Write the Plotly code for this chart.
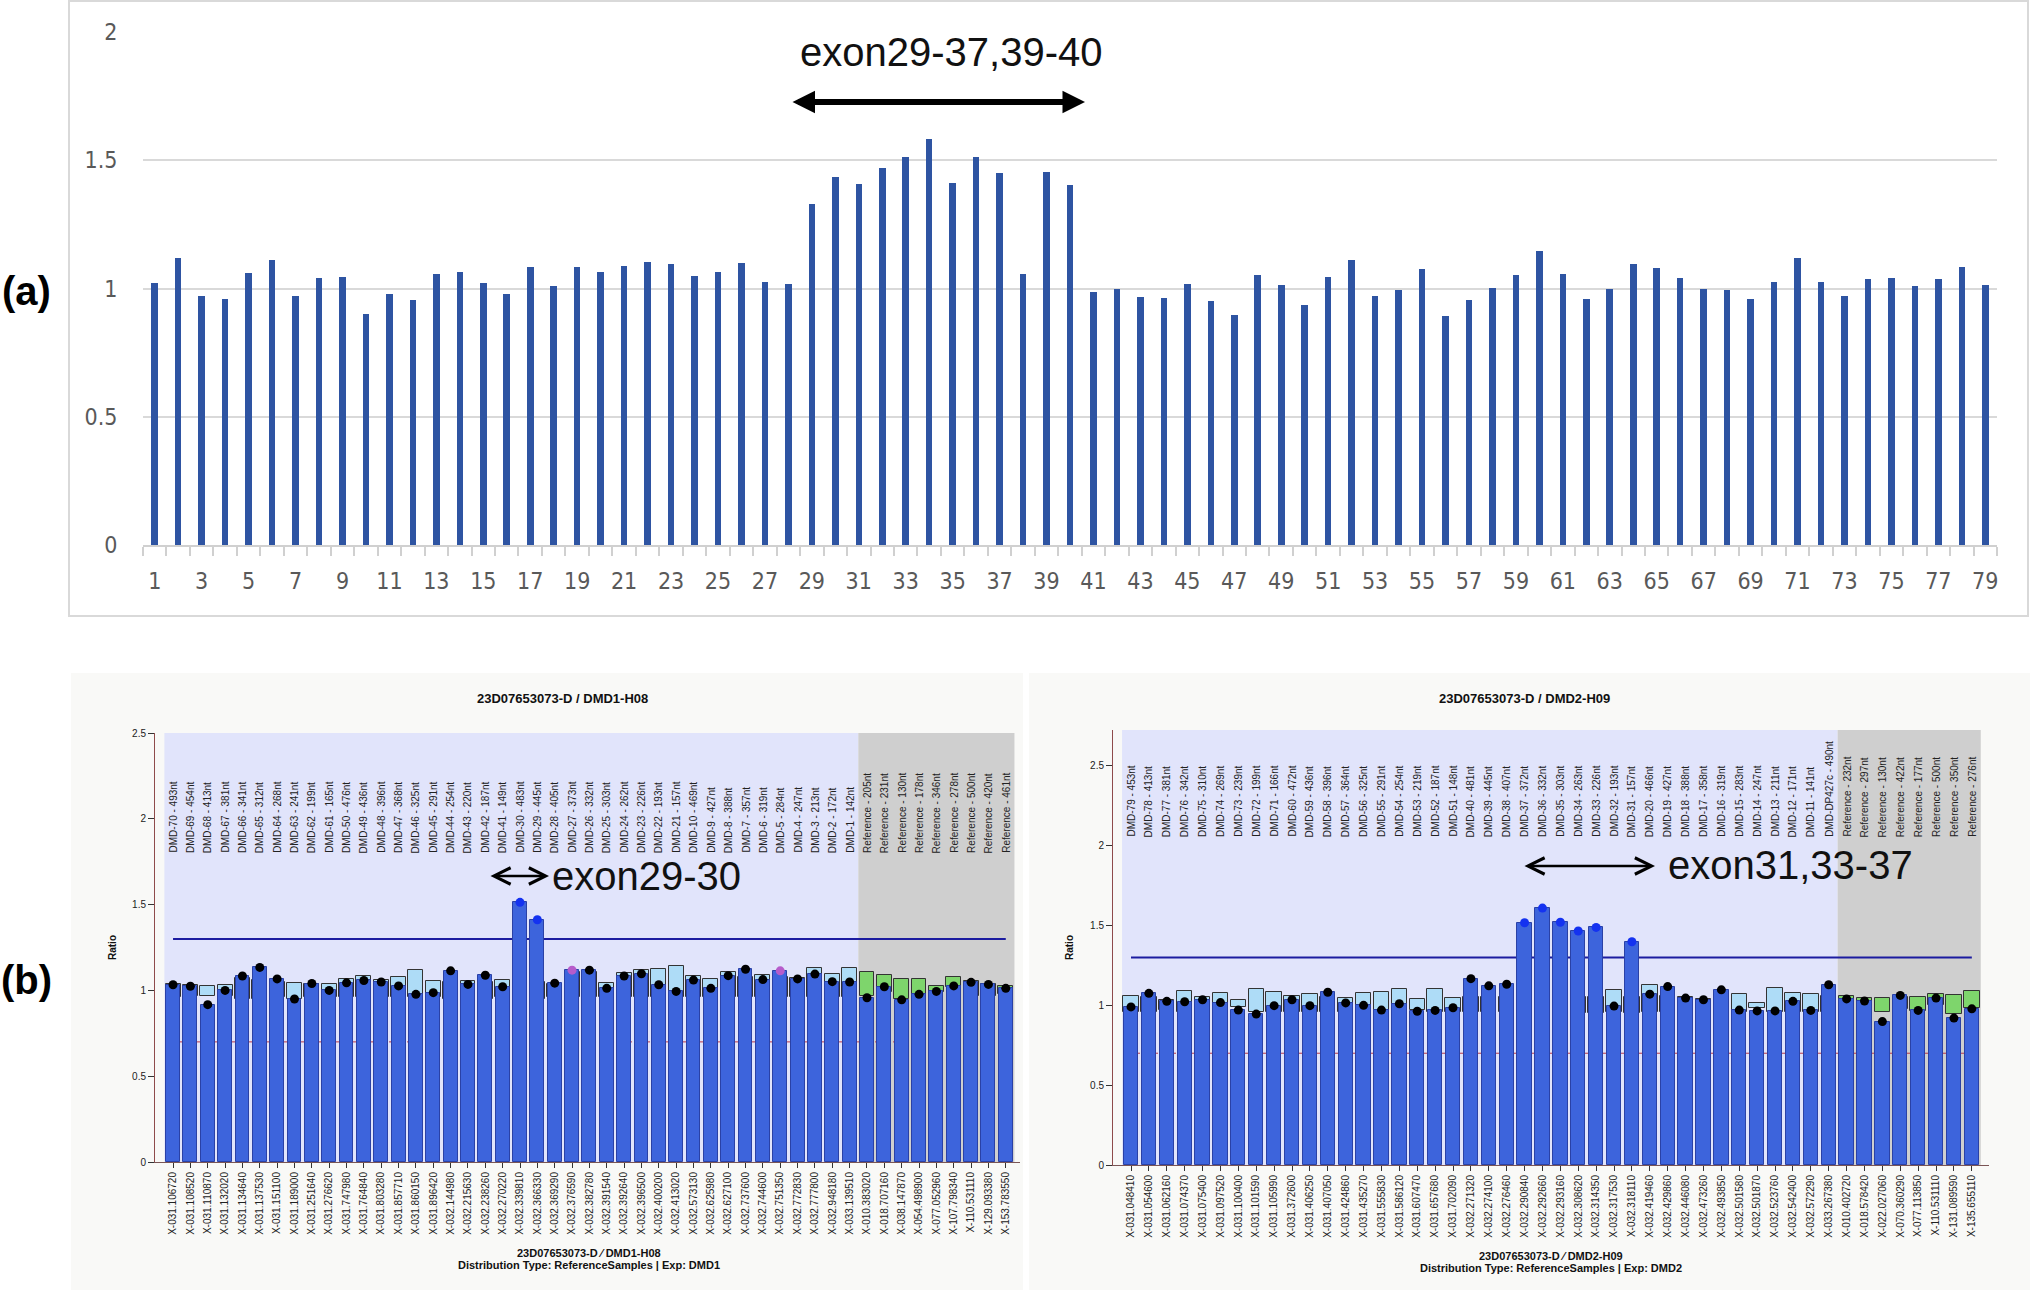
import plotly.graph_objects as go

W, H = 2030, 1290

# ---------------- panel (a) data ----------------
a_exons = list(range(1, 80))
a_ratio = [1.02, 1.12, 0.97, 0.96, 1.06, 1.11, 0.97, 1.04, 1.045, 0.90,
           0.98, 0.955, 1.055, 1.063, 1.02, 0.978, 1.082, 1.008, 1.085, 1.063,
           1.088, 1.103, 1.095, 1.049, 1.065, 1.10, 1.026, 1.018, 1.329, 1.434,
           1.406, 1.471, 1.511, 1.582, 1.411, 1.511, 1.451, 1.058, 1.454, 1.402,
           0.986, 0.998, 0.966, 0.963, 1.018, 0.952, 0.897, 1.054, 1.012, 0.937,
           1.043, 1.111, 0.972, 0.995, 1.077, 0.894, 0.955, 1.003, 1.052, 1.145,
           1.057, 0.958, 0.998, 1.097, 1.078, 1.042, 0.998, 0.995, 0.958, 1.026,
           1.12, 1.025, 0.969, 1.038, 1.042, 1.008, 1.038, 1.082, 1.015]
a_yticks = [0, 0.5, 1, 1.5, 2]
a_label = "exon29-37,39-40"

# ---------------- panel (b) left: DMD1-H08 ----------------
b1_title = "23D07653073-D / DMD1-H08"
b1_footer1 = "23D07653073-D \u2044 DMD1-H08"
b1_footer2 = "Distribution Type: ReferenceSamples | Exp: DMD1"
b1_probes = ["DMD-70 - 493nt", "DMD-69 - 454nt", "DMD-68 - 413nt", "DMD-67 - 381nt",
             "DMD-66 - 341nt", "DMD-65 - 312nt", "DMD-64 - 268nt", "DMD-63 - 241nt",
             "DMD-62 - 199nt", "DMD-61 - 165nt", "DMD-50 - 476nt", "DMD-49 - 436nt",
             "DMD-48 - 396nt", "DMD-47 - 368nt", "DMD-46 - 325nt", "DMD-45 - 291nt",
             "DMD-44 - 254nt", "DMD-43 - 220nt", "DMD-42 - 187nt", "DMD-41 - 149nt",
             "DMD-30 - 483nt", "DMD-29 - 445nt", "DMD-28 - 405nt", "DMD-27 - 373nt",
             "DMD-26 - 332nt", "DMD-25 - 303nt", "DMD-24 - 262nt", "DMD-23 - 226nt",
             "DMD-22 - 193nt", "DMD-21 - 157nt", "DMD-10 - 469nt", "DMD-9 - 427nt",
             "DMD-8 - 388nt", "DMD-7 - 357nt", "DMD-6 - 319nt", "DMD-5 - 284nt",
             "DMD-4 - 247nt", "DMD-3 - 213nt", "DMD-2 - 172nt", "DMD-1 - 142nt",
             "Reference - 205nt", "Reference - 231nt", "Reference - 130nt",
             "Reference - 178nt", "Reference - 346nt", "Reference - 278nt",
             "Reference - 500nt", "Reference - 420nt", "Reference - 461nt"]
b1_loci = ["X-031.106720", "X-031.108520", "X-031.110870", "X-031.132020", "X-031.134640",
           "X-031.137530", "X-031.151100", "X-031.189000", "X-031.251640", "X-031.276620",
           "X-031.747980", "X-031.764840", "X-031.803280", "X-031.857710", "X-031.860150",
           "X-031.896420", "X-032.144980", "X-032.215630", "X-032.238260", "X-032.270220",
           "X-032.339810", "X-032.366330", "X-032.369290", "X-032.376590", "X-032.382780",
           "X-032.391540", "X-032.392640", "X-032.396500", "X-032.400200", "X-032.413020",
           "X-032.573130", "X-032.625980", "X-032.627100", "X-032.737600", "X-032.744600",
           "X-032.751350", "X-032.772830", "X-032.777800", "X-032.948180", "X-033.139510",
           "X-010.383020", "X-018.707160", "X-038.147870", "X-054.498900", "X-077.052960",
           "X-107.798340", "X-110.531110", "X-129.093380", "X-153.783550"]
b1_ratio = [1.033, 1.024, 0.917, 1.0, 1.084, 1.134, 1.067, 0.95, 1.04, 1.0,
            1.044, 1.058, 1.049, 1.026, 0.977, 0.987, 1.114, 1.035, 1.088, 1.021,
            1.513, 1.412, 1.042, 1.118, 1.118, 1.012, 1.084, 1.097, 1.033, 0.994,
            1.06, 1.012, 1.086, 1.123, 1.063, 1.114, 1.067, 1.095, 1.051, 1.049,
            0.957, 1.021, 0.945, 0.977, 0.994, 1.026, 1.047, 1.035, 1.012]
b1_box_lo = [0.96, 0.97, 0.966, 0.97, 0.95, 0.95, 0.96, 0.952, 0.96, 0.96,
             0.96, 0.96, 0.96, 0.96, 0.96, 0.96, 0.95, 0.96, 0.95, 0.96,
             0.95, 0.95, 0.96, 0.96, 0.96, 0.96, 0.96, 0.96, 0.96, 0.96,
             0.96, 0.96, 0.96, 0.96, 0.96, 0.96, 0.96, 0.96, 0.96, 0.96,
             0.97, 0.99, 0.947, 0.975, 0.99, 1.02, 0.97, 0.97, 0.98]
b1_box_hi = [1.04, 1.03, 1.028, 1.033, 1.07, 1.06, 1.05, 1.044, 1.04, 1.04,
             1.067, 1.084, 1.06, 1.079, 1.116, 1.054, 1.05, 1.056, 1.05, 1.058,
             1.05, 1.05, 1.04, 1.11, 1.11, 1.044, 1.104, 1.116, 1.123, 1.141,
             1.084, 1.065, 1.109, 1.08, 1.09, 1.08, 1.072, 1.128, 1.093, 1.128,
             1.109, 1.09, 1.065, 1.065, 1.023, 1.077, 1.056, 1.04, 1.023]
b1_flagged = ["DMD-27 - 373nt", "DMD-5 - 284nt"]
b1_label = "exon29-30"

# ---------------- panel (b) right: DMD2-H09 ----------------
b2_title = "23D07653073-D / DMD2-H09"
b2_footer1 = "23D07653073-D \u2044 DMD2-H09"
b2_footer2 = "Distribution Type: ReferenceSamples | Exp: DMD2"
b2_probes = ["DMD-79 - 453nt", "DMD-78 - 413nt", "DMD-77 - 381nt", "DMD-76 - 342nt",
             "DMD-75 - 310nt", "DMD-74 - 269nt", "DMD-73 - 239nt", "DMD-72 - 199nt",
             "DMD-71 - 166nt", "DMD-60 - 472nt", "DMD-59 - 436nt", "DMD-58 - 396nt",
             "DMD-57 - 364nt", "DMD-56 - 325nt", "DMD-55 - 291nt", "DMD-54 - 254nt",
             "DMD-53 - 219nt", "DMD-52 - 187nt", "DMD-51 - 148nt", "DMD-40 - 481nt",
             "DMD-39 - 445nt", "DMD-38 - 407nt", "DMD-37 - 372nt", "DMD-36 - 332nt",
             "DMD-35 - 303nt", "DMD-34 - 263nt", "DMD-33 - 226nt", "DMD-32 - 193nt",
             "DMD-31 - 157nt", "DMD-20 - 466nt", "DMD-19 - 427nt", "DMD-18 - 388nt",
             "DMD-17 - 358nt", "DMD-16 - 319nt", "DMD-15 - 283nt", "DMD-14 - 247nt",
             "DMD-13 - 211nt", "DMD-12 - 171nt", "DMD-11 - 141nt", "DMD-DP427c - 490nt",
             "Reference - 232nt", "Reference - 297nt", "Reference - 130nt",
             "Reference - 422nt", "Reference - 177nt", "Reference - 500nt",
             "Reference - 350nt", "Reference - 276nt"]
b2_loci = ["X-031.048410", "X-031.054600", "X-031.062160", "X-031.074370", "X-031.075400",
           "X-031.097520", "X-031.100400", "X-031.101590", "X-031.105990", "X-031.372600",
           "X-031.406250", "X-031.407050", "X-031.424860", "X-031.435270", "X-031.555830",
           "X-031.586120", "X-031.607470", "X-031.657680", "X-031.702090", "X-032.271320",
           "X-032.274100", "X-032.276460", "X-032.290840", "X-032.292660", "X-032.293160",
           "X-032.308620", "X-032.314350", "X-032.317530", "X-032.318110", "X-032.419460",
           "X-032.429860", "X-032.446080", "X-032.473260", "X-032.493850", "X-032.501580",
           "X-032.501870", "X-032.523760", "X-032.542400", "X-032.572290", "X-033.267380",
           "X-010.402720", "X-018.578420", "X-022.027060", "X-070.360290", "X-077.113850",
           "X-110.531110", "X-131.089590", "X-135.655110"]
b2_ratio = [0.99, 1.075, 1.025, 1.022, 1.035, 1.017, 0.97, 0.945, 0.998, 1.035,
            0.998, 1.082, 1.015, 1.0, 0.97, 1.01, 0.963, 0.968, 0.985, 1.167,
            1.122, 1.132, 1.517, 1.609, 1.52, 1.465, 1.488, 0.995, 1.398, 1.07,
            1.117, 1.045, 1.035, 1.097, 0.97, 0.965, 0.965, 1.025, 0.968, 1.129,
            1.04, 1.027, 0.898, 1.062, 0.968, 1.045, 0.92, 0.978]
b2_box_lo = [0.96, 0.96, 0.97, 0.96, 0.96, 0.96, 0.99, 0.96, 0.96, 0.96,
             0.96, 0.96, 0.96, 0.96, 0.96, 0.96, 0.97, 0.96, 0.96, 0.96,
             0.96, 0.96, 0.95, 0.95, 0.95, 0.95, 0.95, 0.96, 0.95, 0.96,
             0.96, 0.96, 0.96, 0.96, 0.96, 0.985, 0.96, 0.96, 0.96, 0.96,
             0.99, 0.99, 0.955, 0.98, 0.965, 1.0, 0.945, 0.985]
b2_box_hi = [1.06, 1.05, 1.035, 1.092, 1.052, 1.08, 1.032, 1.1, 1.085, 1.06,
             1.072, 1.05, 1.045, 1.08, 1.085, 1.1, 1.037, 1.102, 1.047, 1.05,
             1.05, 1.05, 1.05, 1.05, 1.05, 1.05, 1.05, 1.095, 1.05, 1.127,
             1.06, 1.05, 1.04, 1.06, 1.072, 1.015, 1.109, 1.08, 1.072, 1.06,
             1.06, 1.045, 1.045, 1.05, 1.052, 1.07, 1.065, 1.09]
b2_flagged = []
b2_label = "exon31,33-37"

upper_threshold = 1.3
lower_threshold = 0.7
b_yticks = [0, 0.5, 1, 1.5, 2, 2.5]


def px_x(p):
    return p / W


def px_y(p):
    return 1 - p / H


fig = go.Figure()

# ---- panel (a) bars ----
fig.add_trace(go.Bar(x=a_exons, y=a_ratio, width=0.28,
                     marker=dict(color="#2E54A2", line=dict(width=0)),
                     xaxis="x", yaxis="y", showlegend=False, hoverinfo="x+y"))


def add_mlpa(loci, probes, ratio, lo, hi, flagged, xa, ya):
    box_cols = ["#7ED56C" if p.startswith("Reference") else "#AEDCF7" for p in probes]
    fig.add_trace(go.Bar(x=loci, y=[h - l for h, l in zip(hi, lo)], base=lo, width=0.86,
                         marker=dict(color=box_cols, line=dict(color="#333333", width=1)),
                         xaxis=xa, yaxis=ya, showlegend=False, hoverinfo="skip"))
    fig.add_trace(go.Bar(x=loci, y=ratio, width=0.8,
                         marker=dict(color="#3D64DC", line=dict(color="#2A41A6", width=1)),
                         xaxis=xa, yaxis=ya, showlegend=False))
    dot_cols = []
    for p, r in zip(probes, ratio):
        if p in flagged:
            dot_cols.append("#B65CCB")
        elif r > upper_threshold:
            dot_cols.append("#1432F0")
        else:
            dot_cols.append("#000000")
    fig.add_trace(go.Scatter(x=loci, y=ratio, mode="markers",
                             marker=dict(color=dot_cols, size=9, line=dict(width=0)),
                             xaxis=xa, yaxis=ya, showlegend=False))


add_mlpa(b1_loci, b1_probes, b1_ratio, b1_box_lo, b1_box_hi, b1_flagged, "x2", "y2")
add_mlpa(b2_loci, b2_probes, b2_ratio, b2_box_lo, b2_box_hi, b2_flagged, "x3", "y3")

shapes = []
# bottom panel backgrounds
shapes.append(dict(type="rect", xref="paper", yref="paper", x0=px_x(71), x1=px_x(1023),
                   y0=px_y(1290), y1=px_y(673), fillcolor="#F9F9F7",
                   line=dict(width=0), layer="below"))
shapes.append(dict(type="rect", xref="paper", yref="paper", x0=px_x(1029), x1=px_x(2030),
                   y0=px_y(1290), y1=px_y(673), fillcolor="#F9F9F7",
                   line=dict(width=0), layer="below"))
# top panel frame
shapes.append(dict(type="rect", xref="paper", yref="paper", x0=px_x(69), x1=px_x(2028),
                   y0=px_y(616), y1=px_y(1), fillcolor="rgba(0,0,0,0)",
                   line=dict(color="#D9D9D9", width=2), layer="below"))

for probes, xa, ya in [(b1_probes, "x2", "y2"), (b2_probes, "x3", "y3")]:
    n_dmd = sum(1 for p in probes if not p.startswith("Reference"))
    n = len(probes)
    shapes.append(dict(type="rect", xref=xa, yref=ya + " domain", x0=-0.5, x1=n_dmd - 0.5,
                       y0=0, y1=1, fillcolor="#E1E4FB", line=dict(width=0), layer="below"))
    shapes.append(dict(type="rect", xref=xa, yref=ya + " domain", x0=n_dmd - 0.5, x1=n - 0.5,
                       y0=0, y1=1, fillcolor="#CFCFCF", line=dict(width=0), layer="below"))
    shapes.append(dict(type="line", xref=xa, yref=ya, x0=0, x1=n - 1,
                       y0=upper_threshold, y1=upper_threshold,
                       line=dict(color="#1C1CA0", width=2), layer="below"))
    shapes.append(dict(type="line", xref=xa, yref=ya, x0=0, x1=n - 1,
                       y0=lower_threshold, y1=lower_threshold,
                       line=dict(color="#B8364A", width=1, dash="dash"), layer="below"))

annotations = []


def label(text, x, y, size, angle=0, color="#111111"):
    annotations.append(dict(text=text, xref="paper", yref="paper", x=px_x(x), y=px_y(y),
                            xanchor="center", yanchor="middle", textangle=angle,
                            showarrow=False,
                            font=dict(size=size, color=color, family="Liberation Sans, Arial")))


def double_arrow(x0, x1, y, head, width, size):
    annotations.append(dict(text="", xref="paper", yref="paper", x=px_x(x1), y=px_y(y),
                            ax=-(x1 - x0), ay=0, showarrow=True, arrowside="end+start",
                            arrowhead=head, startarrowhead=head, arrowsize=size,
                            startarrowsize=size, arrowwidth=width, arrowcolor="#000000"))


# panel labels
label("<b>(a)</b>", 26, 291, 40, color="#000000")
label("<b>(b)</b>", 26, 980, 40, color="#000000")
# panel (a) annotation
label(a_label, 951, 52, 40)
double_arrow(791, 1085, 102, 2, 6, 0.75)

# bottom titles / labels
for title, f1, f2, tx, fx, f1y, ratio_x in [
        (b1_title, b1_footer1, b1_footer2, 562, 589, 1253, 112),
        (b2_title, b2_footer1, b2_footer2, 1524, 1551, 1256, 1069)]:
    label("<b>" + title + "</b>", tx, 698, 13)
    label("<b>" + f1 + "</b>", fx, f1y, 11)
    label("<b>" + f2 + "</b>", fx, f1y + 12, 11)
    label("<b>Ratio</b>", ratio_x, 948, 10, angle=-90)

# probe names along the top of each MLPA plot
for probes, loci, xa, ybase in [(b1_probes, b1_loci, "x2", 855), (b2_probes, b2_loci, "x3", 839)]:
    for p, l in zip(probes, loci):
        annotations.append(dict(text=p, xref=xa, yref="paper", x=l, y=px_y(ybase),
                                yanchor="bottom", xanchor="center", textangle=-90,
                                showarrow=False,
                                font=dict(size=10, color="#222222", family="Liberation Sans, Arial")))

# bottom exon annotations and arrows
label(b1_label, 646, 876, 40)
double_arrow(489, 549, 876, 5, 2.5, 1.3)
label(b2_label, 1790, 865, 40)
double_arrow(1523, 1655, 866, 5, 2.5, 1.3)

excel_font = dict(size=23, color="#595959", family="Liberation Sans Narrow, DejaVu Sans Condensed, Arial Narrow, sans-serif")
small_font = dict(size=10, color="#222222", family="Liberation Sans, Arial")

boundaries = [e - 0.5 for e in a_exons] + [a_exons[-1] + 0.5]

fig.update_layout(
    width=W, height=H, autosize=False, template="none",
    margin=dict(l=0, r=0, t=0, b=0, pad=0),
    paper_bgcolor="#FFFFFF", plot_bgcolor="rgba(0,0,0,0)",
    barmode="overlay", bargap=0, showlegend=False,
    font=dict(family="Liberation Sans, Arial", color="#222222"),
    shapes=shapes, annotations=annotations,
    xaxis=dict(domain=[px_x(143), px_x(1997)], anchor="y", range=[0.5, 79.5],
               tickmode="array", tickvals=a_exons[::2], ticktext=[str(v) for v in a_exons[::2]],
               ticks="outside", ticklen=15, tickcolor="rgba(0,0,0,0)",
               tickfont=excel_font, showgrid=False, zeroline=False,
               showline=True, linecolor="#D0D0D0", linewidth=1.5, automargin=False,
               minor=dict(tickmode="array", tickvals=boundaries, ticks="outside", ticklen=9,
                          tickcolor="#D0D0D0", tickwidth=1.5, showgrid=False)),
    yaxis=dict(domain=[px_y(545), px_y(32)], anchor="x", range=[0, 2],
               tickmode="array", tickvals=a_yticks, ticktext=[f"{v:g}" for v in a_yticks],
               ticks="outside", ticklen=20, tickcolor="rgba(0,0,0,0)",
               tickfont=excel_font, showgrid=True, gridcolor="#D9D9D9", gridwidth=1.5,
               zeroline=False, showline=False, automargin=False),
    xaxis2=dict(domain=[px_x(155), px_x(1020)], anchor="y2", type="category",
                range=[-1.04, 48.82], tickangle=-90, tickfont=small_font,
                ticks="outside", ticklen=5, tickcolor="#333333",
                showline=True, linecolor="#7A5555", linewidth=1,
                showgrid=False, zeroline=False, automargin=False),
    yaxis2=dict(domain=[px_y(1162), px_y(733)], anchor="x2", range=[0, 2.5],
                tickmode="array", tickvals=b_yticks, ticktext=[f"{v:g}" for v in b_yticks],
                ticks="outside", ticklen=6, tickcolor="#333333", tickfont=small_font,
                showline=True, linecolor="#8E4B4B", linewidth=1,
                showgrid=False, zeroline=False, automargin=False),
    xaxis3=dict(domain=[px_x(1113), px_x(1989)], anchor="y3", type="category",
                range=[-1.006, 47.96], tickangle=-90, tickfont=small_font,
                ticks="outside", ticklen=5, tickcolor="#333333",
                showline=True, linecolor="#7A5555", linewidth=1,
                showgrid=False, zeroline=False, automargin=False),
    yaxis3=dict(domain=[px_y(1165), px_y(730)], anchor="x3", range=[0, 2.724],
                tickmode="array", tickvals=b_yticks, ticktext=[f"{v:g}" for v in b_yticks],
                ticks="outside", ticklen=6, tickcolor="#333333", tickfont=small_font,
                showline=True, linecolor="#8E4B4B", linewidth=1,
                showgrid=False, zeroline=False, automargin=False),
)

fig.write_html("out.html")
